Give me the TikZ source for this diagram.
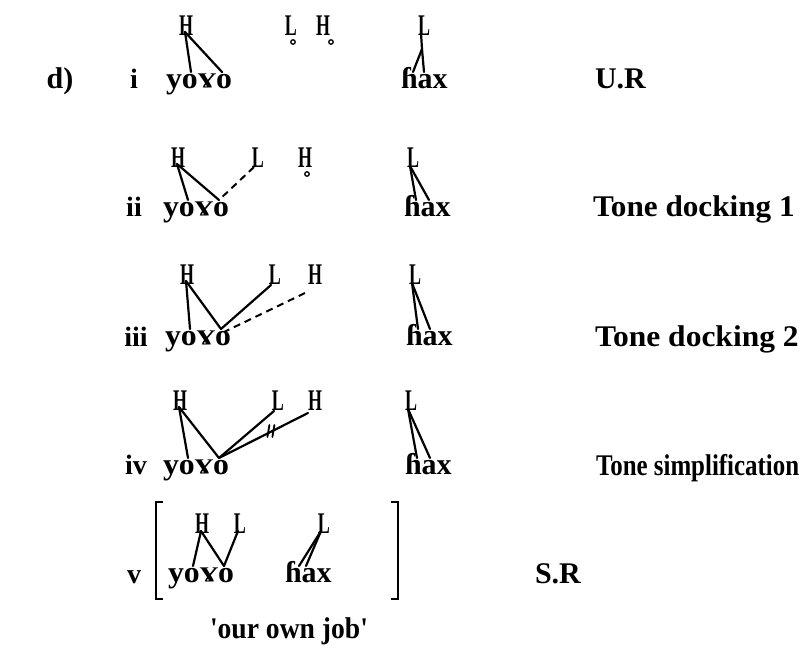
\documentclass[tikz,border=0pt]{standalone}
\usepackage{fontspec}
\setmainfont{Liberation Serif}
\newfontfamily\plainserif{Liberation Serif}
\usetikzlibrary{calc}
% horizontal stretch helpers
\newcommand{\hs}[2]{\scalebox{#1}[1]{#2}}
\newcommand{\toneH}{\hs{0.6}{H}}
\newcommand{\toneL}{\hs{0.6}{L}}
% gamma set on the line, at x-height
\newcommand{\gam}{\raisebox{0.14em}{\scalebox{1.15}[0.7]{ɣ}}}
\newcommand{\yogo}{\hs{1.06}{yo\gam o}}
\newcommand{\hax}{\hs{1.0}{ɦax}}
\begin{document}
\begin{tikzpicture}[x=1pt,y=-1pt,
  every node/.style={inner sep=0pt, outer sep=0pt},
  tone/.style={anchor=base, font=\bfseries\fontsize{30}{30}\selectfont},
  seg/.style={anchor=base west, font=\bfseries\fontsize{30}{30}\selectfont},
  lab/.style={anchor=base west, font=\bfseries\fontsize{30}{30}\selectfont},
  num/.style={anchor=base, font=\bfseries\fontsize{28}{28}\selectfont},
  assoc/.style={line width=2.2pt, line cap=round},
  newlink/.style={line width=2pt, dash pattern=on 7pt off 5pt},
  floatmark/.style={draw, circle, line width=1.3pt, minimum size=4.5pt, inner sep=0pt}
]
\useasboundingbox (0,0) rectangle (804,656);

% ---------- i : underlying representation ----------
\node[num, font=\bfseries\fontsize{30}{30}\selectfont] (d) at (60,88) {d)};
\node[num] (n1) at (134,88) {i};
\node[tone] (h11) at (186,35) {\toneH};
\node[tone] (l12) at (291,35) {\toneL};
\node[tone] (h13) at (323,35) {\toneH};
\node[tone] (l14) at (424,35) {\toneL};
\node[floatmark] (c12) at (293,42) {};
\node[floatmark] (c13) at (331,42) {};
\node[seg] (w1) at (166,88) {\yogo};
\node[seg] (f1) at (401,88) {\hax};
\node[lab] (r1) at (595,88) {U.R};
\coordinate (w1a) at ([shift={(25,-16)}]w1.base west);
\coordinate (w1b) at ([shift={(56,-16)}]w1.base west);
\coordinate (f1a) at ([shift={(12,-16)}]f1.base west);
\coordinate (f1b) at ([shift={(23,-16)}]f1.base west);
\coordinate (s14) at ([shift={(-2,14)}]l14.base);
\draw[assoc] ([shift={(-1,-3)}]h11.base) -- (w1a);
\draw[assoc] ([shift={(-1,-3)}]h11.base) -- (w1b);
\draw[assoc] ([shift={(-3,-2)}]l14.base) -- (s14) -- (f1a);
\draw[assoc] (s14) -- (f1b);

% ---------- ii : tone docking 1 ----------
\node[num] (n2) at (134,216) {ii};
\node[tone] (h21) at (178,167) {\toneH};
\node[tone] (l22) at (258,167) {\toneL};
\node[tone] (h23) at (305,167) {\toneH};
\node[tone] (l24) at (413,167) {\toneL};
\node[floatmark] (c23) at (307,174) {};
\node[seg] (w2) at (163,216) {\yogo};
\node[seg] (f2) at (404,216) {\hax};
\node[lab] (r2) at (593,216) {\hs{1.04}{Tone docking 1}};
\coordinate (w2a) at ([shift={(25,-16)}]w2.base west);
\coordinate (w2b) at ([shift={(56,-16)}]w2.base west);
\coordinate (f2a) at ([shift={(12,-16)}]f2.base west);
\coordinate (f2b) at ([shift={(25,-16)}]f2.base west);
\draw[assoc] ([shift={(-1,-3)}]h21.base) -- (w2a);
\draw[assoc] ([shift={(-1,-3)}]h21.base) -- (w2b);
\draw[newlink] ([shift={(-4,0)}]l22.base) -- (w2b);
\draw[assoc] ([shift={(-3,-1)}]l24.base) -- (f2a);
\draw[assoc] ([shift={(-3,-1)}]l24.base) -- (f2b);

% ---------- iii : tone docking 2 ----------
\node[num] (n3) at (136,346) {iii};
\node[tone] (h31) at (187,284) {\toneH};
\node[tone] (l32) at (275,284) {\toneL};
\node[tone] (h33) at (315,284) {\toneH};
\node[tone] (l34) at (415,284) {\toneL};
\node[seg] (w3) at (165,345) {\yogo};
\node[seg] (f3) at (406,345) {\hax};
\node[lab] (r3) at (595,346) {\hs{1.05}{Tone docking 2}};
\coordinate (w3a) at ([shift={(25,-16)}]w3.base west);
\coordinate (w3b) at ([shift={(56,-16)}]w3.base west);
\coordinate (f3a) at ([shift={(12,-16)}]f3.base west);
\coordinate (f3b) at ([shift={(24,-16)}]f3.base west);
\draw[assoc] ([shift={(-1,-3)}]h31.base) -- (w3a);
\draw[assoc] ([shift={(-1,-3)}]h31.base) -- (w3b);
\draw[assoc] ([shift={(-4,1)}]l32.base) -- (w3b);
\draw[newlink] ([shift={(-10,9)}]h33.base) -- ([shift={(3,3)}]w3b);
\draw[assoc] ([shift={(-3,-1)}]l34.base) -- (f3a);
\draw[assoc] ([shift={(-3,-1)}]l34.base) -- (f3b);

% ---------- iv : tone simplification ----------
\node[num] (n4) at (136,474) {iv};
\node[tone] (h41) at (180,410) {\toneH};
\node[tone] (l42) at (278,410) {\toneL};
\node[tone] (h43) at (315,410) {\toneH};
\node[tone] (l44) at (411,410) {\toneL};
\node[seg] (w4) at (163,474) {\yogo};
\node[seg] (f4) at (405,474) {\hax};
\node[lab] (r4) at (596,475) {\hs{0.83}{Tone simplification}};
\coordinate (w4a) at ([shift={(25,-16)}]w4.base west);
\coordinate (w4b) at ([shift={(56,-16)}]w4.base west);
\coordinate (f4a) at ([shift={(12,-16)}]f4.base west);
\coordinate (f4b) at ([shift={(25,-16)}]f4.base west);
\draw[assoc] ([shift={(-1,-3)}]h41.base) -- (w4a);
\draw[assoc] ([shift={(-1,-3)}]h41.base) -- (w4b);
\draw[assoc] ([shift={(-4,1)}]l42.base) -- (w4b);
\draw[assoc] ([shift={(-7,3)}]h43.base) -- coordinate[pos=0.4] (cut4) (w4b);
% delinking marks
\draw[assoc, line width=1.8pt] ([shift={(-3,-6)}]cut4) -- ([shift={(-5,6)}]cut4);
\draw[assoc, line width=1.8pt] ([shift={(2,-6)}]cut4) -- ([shift={(0,6)}]cut4);
\draw[assoc] ([shift={(-3,-1)}]l44.base) -- (f4a);
\draw[assoc] ([shift={(-3,-1)}]l44.base) -- (f4b);

% ---------- v : surface representation ----------
\node[num] (n5) at (134,583) {v};
\node[tone] (h51) at (202,533) {\toneH};
\node[tone] (l52) at (240,533) {\toneL};
\node[tone] (l53) at (324,533) {\toneL};
\node[seg] (w5) at (168,582) {\yogo};
\node[seg] (f5) at (285,582) {\hax};
\node[lab] (r5) at (535,583) {S.R};
\coordinate (w5a) at ([shift={(25,-16)}]w5.base west);
\coordinate (w5b) at ([shift={(56,-16)}]w5.base west);
\coordinate (f5a) at ([shift={(14,-16)}]f5.base west);
\coordinate (f5b) at ([shift={(21,-16)}]f5.base west);
\draw[assoc] ([shift={(-1,-2)}]h51.base) -- (w5a);
\draw[assoc] ([shift={(-1,-2)}]h51.base) -- (w5b);
\draw[assoc] ([shift={(-2,-2)}]l52.base) -- (w5b);
\draw[assoc] ([shift={(-3,-2)}]l53.base) -- (f5a);
\draw[assoc] ([shift={(-3,-2)}]l53.base) -- (f5b);
% brackets
\coordinate (bl) at (156,502);
\coordinate (br) at (398,502);
\draw[line width=2.4pt] ([shift={(7,0)}]bl) -- (bl) -- ([shift={(0,97)}]bl) -- ([shift={(7,97)}]bl);
\draw[line width=2.4pt] ([shift={(-7,0)}]br) -- (br) -- ([shift={(0,97)}]br) -- ([shift={(-7,97)}]br);

\node[seg, anchor=base, font=\plainserif\bfseries\fontsize{30}{30}\selectfont] (g) at (289,638) {\hs{0.92}{'our own job'}};
\end{tikzpicture}
\end{document}
